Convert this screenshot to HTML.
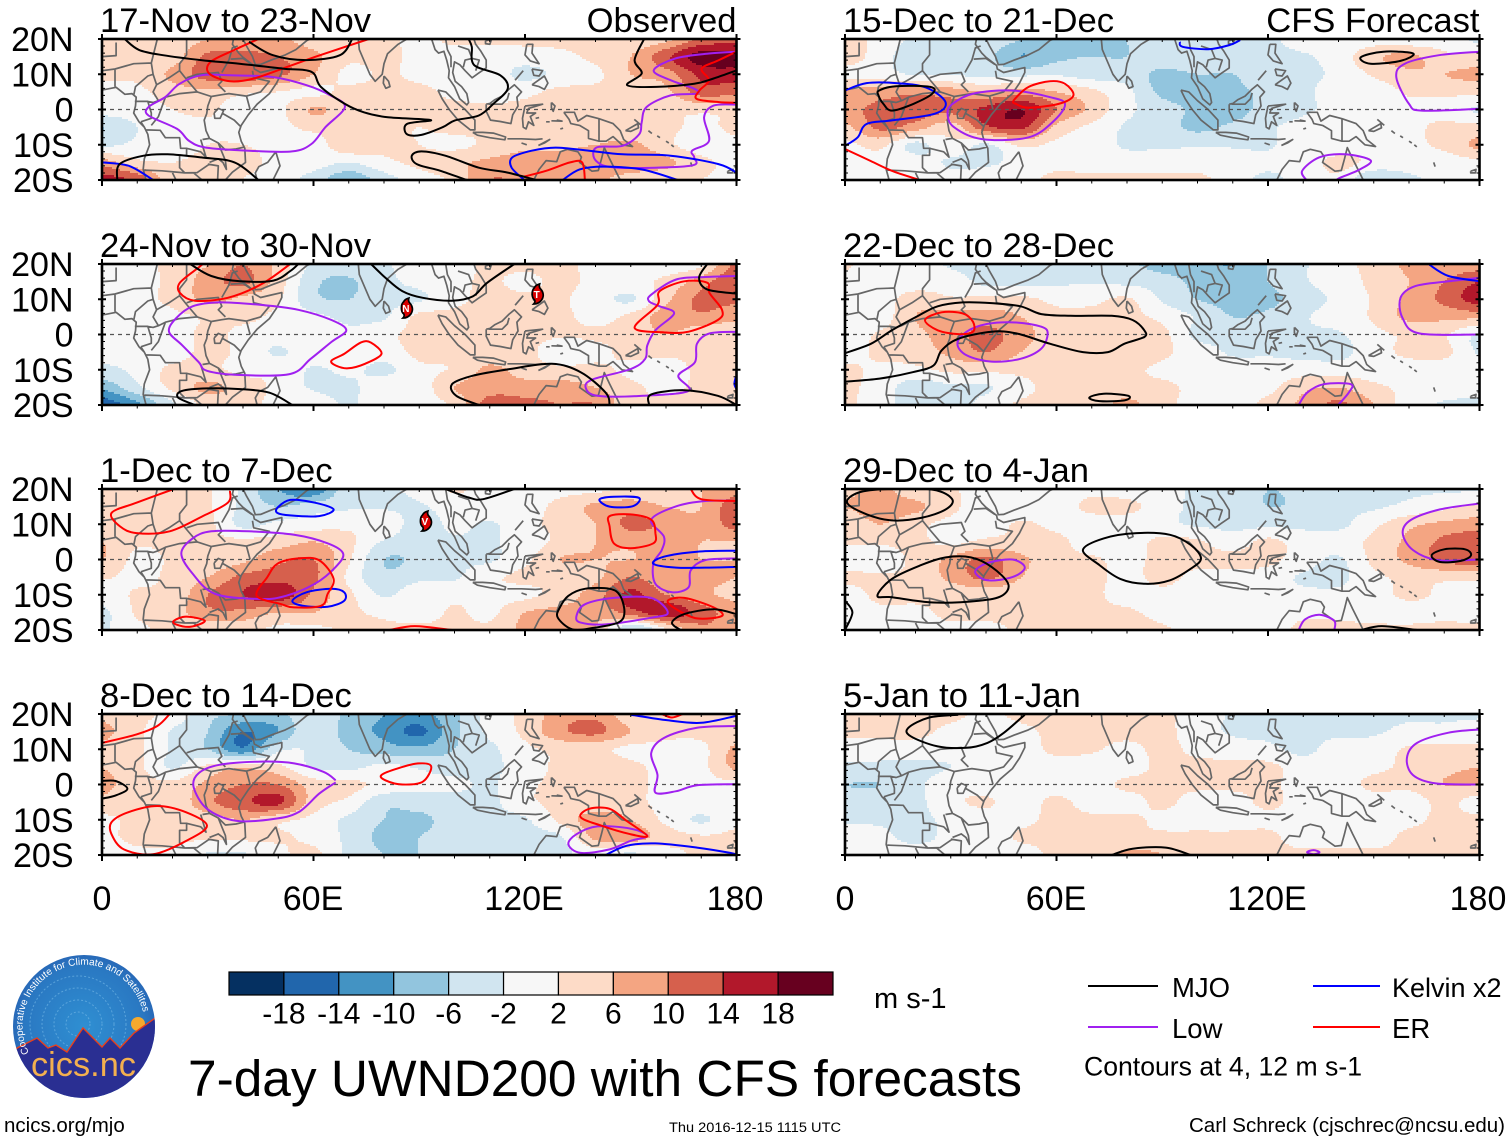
<!DOCTYPE html>
<html lang="en">
<head>
<meta charset="utf-8">
<title>7-day UWND200 with CFS forecasts</title>
<style>
html,body{margin:0;padding:0;background:#fff;}
svg{display:block;font-family:"Liberation Sans",Arial,sans-serif;}
</style>
</head>
<body>
<svg id="figure" xmlns="http://www.w3.org/2000/svg" width="1510" height="1142" viewBox="0 0 1510 1142">
  <rect width="1510" height="1142" fill="#fff"/>
  <g id="panels"></g>

  <g id="colorbar"></g>
  <text x="874" y="1008" font-size="29">m s-1</text>

  <g>
    <line x1="1088" x2="1158" y1="986" y2="986" stroke="#000" stroke-width="2"/>
    <text x="1172" y="997" font-size="27.5">MJO</text>
    <line x1="1313" x2="1380" y1="986" y2="986" stroke="#0000ff" stroke-width="2"/>
    <text x="1392" y="997" font-size="27">Kelvin x2</text>
    <line x1="1088" x2="1158" y1="1027" y2="1027" stroke="#a020f0" stroke-width="2"/>
    <text x="1172" y="1038" font-size="27.5">Low</text>
    <line x1="1313" x2="1380" y1="1027" y2="1027" stroke="#ff0000" stroke-width="2"/>
    <text x="1392" y="1038" font-size="27.5">ER</text>
    <text x="1084" y="1075.5" font-size="27" textLength="278" lengthAdjust="spacingAndGlyphs">Contours at 4, 12 m s-1</text>
  </g>

  <text x="188" y="1096" font-size="51.4" textLength="834" lengthAdjust="spacingAndGlyphs">7-day UWND200 with CFS forecasts</text>
  <text x="4" y="1132" font-size="20.5">ncics.org/mjo</text>
  <text x="669" y="1132" font-size="13.5" textLength="172" lengthAdjust="spacingAndGlyphs">Thu 2016-12-15 1115 UTC</text>
  <text x="1189" y="1132" font-size="20" textLength="316" lengthAdjust="spacingAndGlyphs">Carl Schreck (cjschrec@ncsu.edu)</text>

  <g>
    <defs>
      <clipPath id="logo-clip"><ellipse cx="84" cy="1026.5" rx="71" ry="71.5"/></clipPath>
      <radialGradient id="logo-sky" cx="0.5" cy="0.5" r="0.6">
        <stop offset="0" stop-color="#2f8fd2"/>
        <stop offset="0.7" stop-color="#2a78c2"/>
        <stop offset="1" stop-color="#2456ab"/>
      </radialGradient>
      <path id="logo-ring" d="M 29 1053 A 61 61 0 1 1 143 1012"/>
    </defs>
    <ellipse cx="84" cy="1026.5" rx="71" ry="71.5" fill="url(#logo-sky)"/>
    <g clip-path="url(#logo-clip)" fill="none" stroke="#6fb4e4" stroke-width="1" stroke-dasharray="2 2" opacity="0.7">
      <circle cx="78" cy="1024" r="12"/>
      <circle cx="78" cy="1024" r="24"/>
      <circle cx="78" cy="1024" r="36"/>
      <circle cx="78" cy="1024" r="48"/>
    </g>
    <g clip-path="url(#logo-clip)">
      <circle cx="138" cy="1024" r="7" fill="#f5a92e"/>
      <path d="M10 1052 L19 1047 L37 1038 L48 1048 L56 1045 L67 1052 L83 1028 L102 1047 L110 1038 L120 1048 L134 1033 L158 1016 L158 1100 L10 1100 Z" fill="#2a2f92" stroke="#e8401c" stroke-width="1.4"/>
    </g>
    <text font-size="10" fill="#ffffff"><textPath href="#logo-ring">Cooperative Institute for Climate and Satellites</textPath></text>
    <text x="31" y="1076" font-size="34" fill="#f3b04f" textLength="105" lengthAdjust="spacingAndGlyphs">cics.nc</text>
  </g>
</svg>

<script>
// ---------- axes ----------
const lonValues = [0,10,20,30,40,50,60,70,80,90,100,110,120,130,140,150,160,170,180];
const latValues = [20,15,10,5,0,-5,-10,-15,-20];
const lonTicks = [0,60,120,180];
const lonTickLabels = ['0','60E','120E','180'];
const latTicks = [20,10,0,-10,-20];
const latTickLabels = ['20N','10N','0','10S','20S'];
const colorLevels = [-18,-14,-10,-6,-2,2,6,10,14,18];
const bandColors = ['#053061','#2166ac','#4393c3','#92c5de','#d1e5f0','#f7f7f7','#fddbc7','#f4a582','#d6604d','#b2182b','#67001f'];

// ---------- shaded anomalies (m/s), rows 20N..20S, columns 0..180E ----------
const windNov17 = [
[3,4,4,6,8,7,4,3,3,1,3,3,3,3,3,3,5,11,12],
[3,3,4,11,11,10,7,3,3,1,0,0,0,1,3,6,13,20,20],
[3,3,7,12,13,11,6,1,2.5,1,0,0,-3,-1,1,6,8,15,16],
[0,1,4,5,3,2,1,3,3,3,1,0,1,3,3,3,5,12,11],
[0,0,2,3,-1,1,6.5,4,5,3,3,3,3,3,3,6,3,3,3],
[-6,-2,0,1,1,1,3,3,3,2,3,3,3,3,3,3,3,1,3],
[-3,-1,0,2,2,1,0,5,3,2,1,3,5,5,6,7,3,0,1],
[8,3,2,3,3,1,0,-2,1,3,5,7,8,8,9,9,7,3,1],
[16,13,3,4,2,0,-4,-9,-4,0,3,10,9,10,7,4,3,2,1]];
const windNov24 = [
[1,1,3,6,10,5,-3,-4,-2.5,0,1,2.5,3,3,1,1,0,1,11],
[1,1,3,8,11,4,-5,-6.5,-3,-1,1,2.5,1,3,1,1,3,8,14],
[1,1,3,7,5,2.5,-5,-6,-3,-2.5,1,3,3,2.5,0,-2.5,5,11,11],
[1,0,1,2.5,3,1,-1,-3,-2.5,3,3,3,5,3,1,3,8,9,7],
[0,0,0,3,1,0,1,-1,1,3,3,3,3,2.5,2.5,3,6,3,3],
[-1,-1,0,3,1,-2.5,1,1,0,3,3,3,3,0,1,3,3,3,3],
[-3,-1,3,3,1,1,-2.5,-1,-3,1,2.5,7,4,3,3,1,0,3,3],
[-9,-3,3,7,4,1,-2.5,-3,1,0,6,8,8,8,6,3,1,3,3],
[-17,-11,-3,3,3,1,1,-2.5,1,0,3,12,11,10,10,3,3,5,3]];
const windDec01 = [
[3,3,3,2.5,-3,-10,-13,-3,-2.5,-1,2.5,0,1,1,1,3,3,6,8],
[3,3,4,2.5,-3,-6,-4,-2.5,-2.5,-2.5,0,1,1,3,7,8,6,6,13],
[2.5,2.5,4,3,-3,-1,0,1,1,-4,-1,-2.5,1,3,6,11,9,7,12],
[6,2.5,3,3,3,4,6,3,-2.5,-4,-2.5,-2.5,0,3,6,7,8,6,6],
[6,1,2.5,3,5,9,10,2.5,-6,-5,-2.5,-2.5,1,6,6,6,7,6,6],
[2.5,1,3,6,11,12,11,1,-5,-3,-2.5,1,3,3,5,10,7,7,6],
[0,2.5,3,10,14,17,9,3,-2.5,1,1,1,1,4,8,15,10,7,5],
[-3,2.5,4,9,9,6,6,3,1,0,2.5,1,6,7,7,12,17,12,8],
[-2.5,1,3,3,3,1,1,2.5,3,3,3,3,7,7,6,-7,1,9,7]];
const windDec08 = [
[5,3,1,-5,-6,-7,-3,-7,-10,-11,-7,0,3,8,9,3,3,3,3],
[7,3,-2.5,-6,-14,-10,-2.5,-8,-11,-15,-7,-1,3,9,11,6,3,3,3],
[5,3,-2.5,-6,-13,-3,-2.5,-6,-8,-9,-6,-3,1,3,3,1,1,1,7],
[6,3,-2.5,3,5,3,-2.5,-3,-1,-2.5,-4,-3,0,3,6,3,1,1,7],
[7,4,3,7,10,10,4,3,1,-1,-1,-2.5,1,3,3,3,1,1,1],
[5,3,3,9,13,15,4,1,-5,-4,-4,-3,1,3,3,3,1,1,1],
[1,3,3,4,6,3,1,-3,-6,-7,-4,-3,-2.5,3,8,6,1,-2.5,1],
[1,3,3,2.5,3,2.5,1,-3,-7,-6,-4,-3,-3,-2.5,7,8,4,2.5,3],
[-1,1,1,-2.5,-2.5,1,3,-3,-6,-6,-5,-3,-4,-3,-1,-3,0,3,3]];
const windDec15 = [
[3,1,-3,-3,-3,-6,-8,-10,-6,-2.5,-2.5,-3,-3,0,-1,0,-1,0,-3],
[4,0,-5,-6,-5,-10,-7,-6,-6,-3,-3,-3,-3,-2.5,0,5,7,3,3],
[1,0,-2.5,-2.5,-3,-3,-2.5,-4,-4,-7,-6,-6,-3,-3,-1,2.5,5,6,7],
[7,8,9,8,6,8,6,3,-1,-7,-8,-7,-5,-3,0,0,2.5,3,3],
[9,11,12,11,15,18,10,5,-1,-4,-7,-8,-4,-2.5,-1,1,1,0,-2.5],
[5,11,8,4,13,15,5,1,-2.5,-4,-7,-5,-2.5,-1,1,1,1,3,3],
[1,3,-3,1,-2.5,3,1,0,-2.5,-2.5,-2.5,-2.5,-2.5,0,0,0,1,3,7],
[0,1,0,-2.5,-2.5,-1,1,0,0,0,0,0,-1,0,3,1,0,0,1],
[-1,-1,0,0,0,1,3,3,3,3,3,0,-3,0,1,-6,-3,-1,-1]];
const windDec22 = [
[2.5,0,0,-2.5,-3,-3,-2.5,-3,-5,-8,-9,-10,-6,-2.5,1,3,7,7,8],
[1,0,0,0,-3,-3,-2.5,-2.5,-3,-4,-7,-7,-6,-2.5,0,3,6,10,14],
[0,0,4,2.5,3,3,1,1,2.5,-2.5,-6,-7,-7,-4,-1,2.5,7,11,16],
[0,0,6,8,8,6,3,3,3,1,-2.5,-6,-5,-2.5,0,2.5,7,7,7],
[0,2.5,5,8,11,8,3,3,3,3,-3,-2.5,-2.5,-2.5,-2.5,1,2.5,2.5,-2.5],
[0,3,4,7,10,6,3,3,6,3,0,-2.5,-2.5,-3,-3,0,3,3,-2.5],
[3,1,1,3,3,3,3,3,3,1,0,0,0,0,0,0,0,0,0],
[3,0,-4,-3,-2.5,1,3,3,4,3,1,1,1,5,6,3,1,0,-1],
[3,-1,-3,-5,0,2.5,3,4,7,3,1,1,3,7,11,6,0,-2.5,-2.5]];
const windDec29 = [
[5,7,3,2.5,0,0,0,1,0,0,-3,-4,-6,-5,-3,-2.5,-2.5,-2.5,-2.5],
[6,8,7,3,0,0,0,3,3,0,-3,-3,-6,-5,-3,-2.5,-1,1,3],
[3,6,3,1,0,2.5,1,0,0,-1,-2.5,-3,-3,-3,-3,1,5,7,8],
[2.5,2.5,3,1,3,3,3,0,0,3,2.5,0,3,0,0,3,7,11,13],
[0,0,3,7,11,7,3,2.5,1,3,3,3,3,0,-2.5,3,7,11,13],
[3,2.5,3,7,11,6,3,3,1,3,1,1,0,-2.5,-3,1,3,3,3],
[0,3,3,3,3,3,3,3,0,1,0,0,-1,-1,-1,0,3,1,0],
[0,1,1,3,3,3,3,3,3,0,0,0,0,1,1,0,0,1,0],
[0,0,0,1,1,2.5,3,3,6,3,0,0,0,3,3,3,3,3,3]];
const windJan05 = [
[3,3,3,3,1,3,3,3,3,3,0,-2.5,-5,-5,-3,-2.5,-2.5,-2.5,-2.5],
[3,3,3,1,0,1,3,3,3,3,0,-2.5,-3,-3,-3,-2.5,-1,-1,0],
[0,0,0,0,0,0,3,2.5,1,3,1,0,-1,-3,0,0,2.5,3,3],
[-3,-3,-3,-2,0,0,0,0,0,3,3,3,3,0,0,1,3,5,6],
[-6,-6,-3,0.5,0,0,0,0,3,3,3,3,3,0,0,3,3,6,6],
[-4,-3,-3,1,2.5,0,3,0,0,3,0,0,3,0,0,0,0,3,0],
[-2.5,-2.5,-3,-1,0,1,3,3,3,1,0,0,1,0,0,0,1,3,3],
[0,-1,-3,-1,0,2.5,3,3,3,3,3,3,3,0,0,0,3,3,3],
[0,0,0,0,0,0,3,3,7,6,3,3,3,3,3,3,3,3,6]];

// ---------- filtered-wave contours, vertices as [lon,lat]; a repeated first vertex closes a ring ----------
const mjoNov17 = [
[[6.4,20],[10.5,16.9],[17.3,15.4],[28.1,14],[39,13],[51.2,11.6],[59.4,10.7],[62.1,6.4],[68.9,1.6],[74.3,-0.8],[81.1,-2.2],[93.3,-3],[86.5,-4.1],[86.5,-7],[90.6,-7.2],[96.7,-5],[100.1,-3.1],[106.9,-1.7],[111,1.6],[115.1,5.9],[113,9.7],[105.6,12.6],[104.9,17.8],[104,20]],
[[41.7,19.2],[48.5,15.4],[58,14],[67.5,15.4],[70.9,19.8]],
[[4.3,-20],[5,-15.5],[11.8,-13.1],[18.6,-12.7],[28.1,-13.6],[37.6,-15],[44.4,-20]],
[[103.5,-20],[96,-17.4],[89.3,-15.5],[87.9,-13.1],[90.6,-11.9],[97.4,-13.1],[106.9,-16.5],[115.1,-17.9],[123.2,-20]],
[[153.8,20],[151.1,14],[153.1,10.2],[149,6.9],[157.2,6.4],[168,7.3],[173.5,8.8],[180,11.1]]];
const lowNov17 = [
[[68.9,0.7],[64.8,4],[58,6.9],[48.5,9.2],[36.3,9.7],[28.1,9.7],[22,7.3],[17.9,3.5],[13.2,0.7],[13.2,-1.7],[21.3,-5.5],[24.7,-8.9],[29.5,-10.8],[41.7,-11.7],[53.9,-11.9],[59.4,-9.8],[63.4,-5],[68.9,0.7]],
[[180,16.4],[172.2,15.9],[162.7,14.5],[156.5,11.1],[161.3,8.3],[168,5.9],[168.7,4.5],[161.3,4],[154.5,0.7],[153.1,-3.6],[152.4,-7],[147.7,-10.3],[140.2,-10.8],[140.2,-14.6],[146.3,-16.5],[166.7,-16],[168,-13.6],[167.4,-11.7],[172.2,-8.9],[170.8,-2.2],[173.5,1.1],[180,1.4]]];
const kelvinNov17 = [
[[119.8,-20],[116.2,-16.5],[116.4,-13.6],[121.9,-11.7],[128.7,-10.8],[138.2,-11.7],[147.7,-12.7],[161.3,-13.1],[174.9,-15.5],[180,-17.9]],
[[130.7,-20],[135.5,-17],[142.3,-16.2],[153.1,-17],[163.3,-20]],
[[0.3,-15],[7.7,-16],[14.5,-20]]];
const erNov17 = [
[[44.4,20],[37.6,16.9],[30.8,13.5],[30.4,10.2],[36.3,8],[43.1,8.8],[52.6,12.1],[60.7,15],[75.7,20]],
[[180,16.4],[175,14],[170.1,11.6],[172.2,8.3],[169.5,5.4],[168.7,3],[175,2.1],[180,1.9]],
[[119.8,-19],[126,-17.4],[132.8,-15],[136.2,-15],[137,-20]]];

const mjoNov24 = [
[[25,20],[31,16.6],[39.2,15.1],[48.6,15.3],[53.4,18],[55.7,20]],
[[76.3,20],[80.4,16.1],[85.2,12.3],[91,10.4],[99.3,9.6],[105.2,10.8],[109.3,14.7],[117,20]],
[[171.7,20],[169.4,16.1],[171.7,12.8],[180,11.6]],
[[26.3,-20],[21.6,-17.9],[22.7,-16],[29.8,-15.3],[39.2,-15.5],[47.5,-16.5],[54,-20]],
[[107,-20],[100.5,-17.4],[99.3,-14.1],[105.2,-11.7],[115.8,-9.8],[127.6,-8.3],[135.8,-10.7],[142.9,-16.5],[144,-20]],
[[155.2,-20],[155.8,-17],[165.2,-15.8],[174.7,-17.4],[180,-20]]];
const lowNov24 = [
[[69.3,1.2],[65.1,4.1],[55.7,7],[45.1,8.4],[33.3,9.1],[25.7,8],[21,4.6],[19,0.8],[22.7,-3],[27.4,-7.8],[29.8,-10.3],[39.2,-11.5],[53.4,-11.2],[59.2,-6.9],[65.1,-2.1],[69.3,1.2]],
[[180,16.6],[171.1,16.3],[162.9,15.6],[155.8,11.3],[155.2,9.4],[158.2,8],[162.3,6],[157,1.2],[154.7,-3.1],[154.1,-6.9],[150,-9.8],[139.3,-12.7],[137.2,-15],[140.5,-17.4],[153.5,-17.4],[166.4,-16],[163.5,-11.7],[168.2,-7.9],[168.8,-2.6],[172.3,0.3],[180,0.8]]];
const kelvinNov24 = [[[179.8,-12],[179.4,-14],[180,-15.5]]];
const erNov24 = [
[[53.4,20],[45.1,14.2],[35.7,10.4],[26.3,9.6],[22.1,11.8],[22.1,14.7],[27.4,19],[28.6,20]],
[[68.7,-5.5],[73.4,-2.3],[76.3,-2.3],[79.3,-5.5],[74.6,-8.3],[69.8,-9.6],[66.3,-8.8],[65.1,-7.4],[68.7,-5.5]],
[[151.1,1.9],[157.6,8.4],[158.2,12.3],[165.2,15.1],[171.7,14.7],[172.3,11.8],[175.9,7],[174.7,4.1],[166.4,0.8],[159.4,0.6],[151.1,1.9]]];

const mjoDec01 = [
[[97.5,20],[104,17.6],[108.1,17.1],[117,20]],
[[129.9,-13.6],[132.3,-10.3],[137,-8.3],[144,-8.3],[147,-10.3],[148.2,-15.1],[146.4,-17.9],[139.3,-19.4],[133.4,-19.8],[129.3,-16.5],[129.9,-13.6]],
[[164.1,-20],[161.7,-17.9],[165.2,-15.5],[173.5,-14.1],[180,-15.5]]];
const lowDec01 = [
[[68.4,1.7],[64,4.6],[54.5,7],[41.6,8],[31,8],[25.7,6],[22.5,1.7],[25.7,-4],[32.2,-9.8],[45.1,-11.2],[52.2,-10.3],[60.4,-6.9],[66.3,-2.1],[68.4,1.7]],
[[180,16.6],[171.1,16.6],[162.9,15.1],[155.8,11.3],[159.4,6.5],[158.8,2.7],[156.4,-1.2],[157,-6.9],[161.7,-9.3],[166.4,-7.9],[167,-3.1],[171.1,-0.2],[180,0.3]],
[[134.6,-16],[137,-12.7],[145.2,-10.9],[155.8,-10.9],[160.5,-15.1],[155.8,-16.5],[142.9,-18.4],[135.8,-17.9],[134.6,-16]]];
const kelvinDec01 = [
[[49.8,14.7],[53.4,16.9],[60.4,16.1],[65.7,14.2],[61.6,12.3],[53.4,12.5],[49.8,13.2],[49.8,14.7]],
[[141.1,17],[145.2,17.8],[152.3,17.5],[150.5,15.1],[144,15],[141.1,17]],
[[180,2.5],[168.8,2.2],[159.4,0.8],[156.4,-1.2],[162.9,-2.3],[171.1,-2.3],[180,-2.1]],
[[54,-11.7],[58,-9.3],[65.1,-8.3],[68.7,-9.3],[68.7,-11.7],[64,-13.4],[56.9,-13.1],[54,-11.7]]];
const erDec01 = [
[[36.3,19.5],[35.7,16.1],[28.6,12.3],[19.2,8],[9.8,7.5],[5.1,9.4],[2.7,13.2],[9.8,16.1],[20.4,20]],
[[20.4,-17.4],[23.9,-16.2],[29.2,-17.4],[25.1,-19.1],[21,-18.4],[20.4,-17.4]],
[[51,-12.7],[43.9,-10.3],[46.9,-5],[49.8,-1.2],[55.7,0.3],[61.6,-0.2],[65.7,-5.5],[64,-9.8],[62.2,-13.1],[54.5,-13.6],[51,-12.7]],
[[81.6,-20],[88.7,-18.9],[99.3,-20]],
[[144,12.3],[149.9,12.8],[155.8,11.3],[157,7.5],[156.4,4.6],[149.9,3.2],[145.2,4.6],[144,9.4],[144,12.3]],
[[167,20],[170,17.1],[180,16.6]],
[[160.5,-11.7],[165.2,-10.9],[173.5,-13.6],[175.9,-16],[168.8,-16.7],[162.9,-14.1],[160.5,-11.7]]];

const mjoDec08 = [[[0,1],[3.9,1],[7.2,-1.2],[3.9,-3.1],[0,-4]]];
const lowDec08 = [
[[66.3,1.2],[62.8,3.6],[54.5,6],[45.1,6.5],[33.3,5.6],[27.4,3.2],[26,-0.7],[29.8,-6.9],[38,-10.3],[48.6,-9.8],[55.7,-7.9],[61.6,-2.6],[66.3,0.6]],
[[180,16.6],[168.8,16.1],[159.4,13.2],[155.8,8.9],[157.6,2.7],[157,-2.3],[162.9,-1.9],[168.8,-0.2],[180,0.1]],
[[154.7,-14.6],[149.9,-12.5],[140.5,-11.9],[134.6,-14.1],[132.3,-17],[135.8,-19.4],[144,-18.4],[149.9,-16],[154.7,-14.6]]];
const kelvinDec08 = [
[[150,19.8],[160.5,18.2],[170,17.5],[180,19.5]],
[[142.9,-20],[148.8,-17.4],[157,-16.7],[168.8,-17.9],[178.2,-19.4],[180,-20]]];
const erDec08 = [
[[19.2,20],[15.7,16.6],[9.8,14.2],[0,11.8]],
[[2.7,-10.7],[7.4,-7.9],[15.7,-6.1],[23.9,-7.9],[29.8,-11.7],[23.9,-16],[14.5,-19.8],[6.2,-18.4],[2.7,-14.1],[2.7,-10.7]],
[[79.3,2.7],[84,4.6],[89.9,6],[93.4,5.1],[91,0.8],[85.2,0],[80.4,1.2],[79.3,2.7]],
[[135.8,-9.3],[138.2,-6.9],[144,-6.9],[148.8,-10.3],[154.7,-14.6],[149.9,-14.1],[141.7,-11.7],[135.8,-9.3]],
[[158.8,20],[161.7,19],[164.7,20]]];

const mjoDec15 = [
[[9.7,5.4],[14.5,6.6],[24.2,6.4],[24.8,4.5],[19.4,1.6],[13.3,-0.3],[10.9,1.6],[9.5,4],[9.7,5.4]],
[[146.3,14.8],[152.7,16.4],[161.2,15.9],[157.6,13.8],[149.1,13],[146.3,14.8]]];
const lowDec15 = [
[[62.4,1.6],[58.2,3.5],[47.3,5.4],[36.4,4.5],[30.5,1.6],[29.1,-1.2],[30.9,-5],[38.8,-8.4],[52.1,-7.9],[59.4,-3.1],[62.4,1.6]],
[[180,16.4],[168.5,15.4],[158.8,13],[156.4,9.2],[160,1.6],[163.6,-0.3],[180,0.2]],
[[130.9,-20],[129.7,-17.4],[134.5,-13.6],[141.8,-12.7],[149.1,-14.4],[146.1,-17],[140.6,-19.3],[139.4,-20]]];
const kelvinDec15 = [
[[0,5.4],[6.1,7.5],[14.5,7.5],[23,6.2],[28.5,2.1],[25.5,-1.2],[13.3,-3.1],[6.1,-4.1],[3.6,-7.9],[0,-10.3]],
[[95,19.2],[95.8,17.8],[103.1,17.1],[109.1,18.3],[112.1,19.7]]];
const erDec15 = [
[[47.9,2.6],[52.1,6.4],[58.2,8],[62.4,7.3],[64.8,4],[60.6,1.6],[52.1,0.5],[48.5,1.6],[47.9,2.6]],
[[0,-11.2],[7.3,-14.6],[13.3,-17.4],[20.6,-19.8]]];

const mjoDec22 = [
[[0,-5.3],[7.4,-2.6],[13.3,1.2],[20.4,5.1],[26.3,8],[33.4,9.1],[41.6,8.9],[49.8,8],[55.7,5.8],[64,5.3],[75.7,5.3],[81.6,4.1],[84.9,1.2],[84.9,-0.7],[79.3,-2.6],[74.6,-5],[67.5,-5],[58.1,-2.6],[48.6,0.3],[41.6,0.8],[32.2,-1.2],[27.4,-4.5],[25.1,-8.8],[19.2,-10.7],[9.8,-12.5],[0,-13.4]],
[[69.3,-17.9],[73.4,-16.8],[80.4,-17.4],[79.3,-18.7],[72.2,-18.9],[69.3,-17.9]]];
const lowDec22 = [
[[57.5,0.3],[55.7,2.2],[48.6,3.4],[40.4,3],[34.5,0.8],[31.9,-2.6],[34.5,-5.9],[41.6,-7.7],[49.8,-6.9],[55.7,-4],[57.5,0.3]],
[[180,16.1],[171.2,15.1],[161.7,13.7],[157.6,10.4],[158.2,4.6],[162.9,0.3],[180,0]],
[[128.7,-20],[131.1,-16.5],[135.8,-14.1],[143.5,-14.1],[142.9,-16.5],[139.9,-20]]];
const kelvinDec22 = [[[165.8,19.8],[171.2,16.6],[180,15.1]]];
const erDec22 = [[[22.7,4.1],[27.4,6.3],[33.4,6],[36.3,3.6],[36.3,0.8],[32.2,0.1],[26.3,1.2],[22.7,4.1]]];

const mjoDec29 = [
[[0.6,16.1],[3.9,19],[12.1,20],[25,19.8],[30.4,17.1],[28.6,14.2],[21.6,11.8],[13.3,11.1],[6.2,12.8],[0.6,16.1]],
[[9.2,-10.3],[13.3,-5.5],[21.6,-1.6],[28.6,0.6],[35.7,0.6],[41.6,-2.1],[46.3,-6.9],[44.5,-10.3],[38,-11.7],[25.1,-12.2],[13.3,-10.7],[9.2,-10.3]],
[[0,-11.7],[2.1,-15],[0,-20]],
[[67.5,2.7],[73.4,6],[82.8,7.5],[92.2,7],[98.1,4.1],[101,0.3],[98.1,-2.6],[92.2,-5.9],[85.2,-6.9],[78.1,-5.5],[72.2,-1.6],[67.5,2.7]],
[[166.4,1.2],[170,2.9],[175.9,2.9],[177.6,1.2],[174.7,-0.4],[168.8,-0.7],[166.4,1.2]],
[[146.4,-20],[152.3,-18.9],[162.3,-20]]];
const lowDec29 = [
[[180,15.9],[168.8,14.2],[160.5,11.2],[158.2,7.5],[161.1,2.7],[168.2,-0.2],[180,0]],
[[36.9,-3.5],[40.4,-1],[47.5,0],[51,-2.3],[47.5,-5],[40.4,-5.9],[36.9,-3.5]],
[[128.7,-20],[130.5,-17],[134.6,-15.7],[138.8,-17.4],[138.8,-20]]];

const mjoJan05 = [
[[32.1,19.8],[23.9,19],[18,16.1],[18.6,13.7],[26.3,10.8],[34.5,10.4],[40.4,11.8],[45.1,14.7],[51,19.8]],
[[75.7,-20],[81.6,-18.2],[91,-17.9],[98.1,-20]]];
const lowJan05 = [
[[180,15.6],[171.2,14.7],[162.3,11.8],[159.4,7.5],[161.1,2.7],[167.6,0.3],[180,0]],
[[131.1,-19.2],[132.9,-18.6],[134.6,-19.2],[132.9,-19.8],[131.1,-19.2]]];

// ---------- tropical cyclone positions ----------
const stormNames = ['N','T','V'];
const stormLons = [86.2,123.3,91.6];
const stormLats = [7.5,11.5,10.9];
const stormPanels = [1,1,2];

// ---------- map outlines, vertices as [lon,lat] ----------
const coastlines = [
[[0,5.5],[4,6.3],[5,5.5],[6.5,4.3],[8.5,4.5],[9.7,3.5],[9.5,1],[9,-1],[10.5,-3.5],[12,-5],[13,-7],[13.5,-10],[12,-14],[11.7,-17],[12.5,-20]],
[[37.3,20],[37,18.5],[38.8,16],[40,14.8],[43,12.5],[43.2,11.5],[45,10.5],[48,11.2],[51,11.9],[51,10.5],[49.5,7.5],[47.5,4.5],[44,1.5],[41.5,-1.5],[39.5,-4.5],[38.8,-6.5],[39.5,-9],[40.5,-11],[40.7,-15],[37,-17.8],[35,-20]],
[[40,20],[41,18],[42.7,15],[43.5,12.7],[45,12.8],[48,14],[52,15.5],[55,17],[58,19.5],[59,20]],
[[72.7,20],[73,17],[74.5,13.5],[76,10],[77.5,8],[79.5,10],[80,13],[81,15.8],[84,18.5],[86.5,20]],
[[80,9.5],[81.3,8],[81.7,6.5],[80.5,6],[79.8,7.5],[80,9.5]],
[[93.5,20],[94.5,17],[95.5,16],[97,16.5],[97.8,14],[98.5,11],[98.3,9],[100,6.5],[101.5,3],[103.5,1.3],[104,2],[103.5,4.5],[102,6.5],[100.2,8],[99.5,10.5],[100,13.5],[101.5,12.7],[103,11],[105,9],[106.8,10.3],[109,11.8],[109,14],[107.5,16.5],[106,18.5],[105.5,20]],
[[108.8,19.5],[110.5,19.9],[110,18.5],[108.8,18.7],[108.8,19.5]],
[[97.5,20],[98,17],[99,15],[99,12]],[[101,18],[104,17],[105,14.5],[107,14],[106,11]],[[102.5,12],[103,14],[105,14.5]],
[[95.3,5.5],[97.5,5],[100,2.5],[103,0],[105.8,-3],[105.8,-5.8],[104.5,-5.8],[101,-3],[98.5,0],[96.5,3],[95.3,5.5]],
[[105.2,-6.5],[108,-6.5],[111,-6.7],[114.5,-7.8],[114.3,-8.6],[110,-8],[106.5,-7.3],[105.2,-6.5]],
[[115,-8.3],[119,-8.3],[123,-8.5],[125,-8.3]],[[119,-9.5],[120.5,-10]],[[123.8,-10.2],[127,-8.5],[125.5,-9.5],[123.8,-10.2]],
[[109,1.5],[110,1.7],[111.5,2.8],[113.5,3.8],[115.5,5.8],[117,7],[119,5],[117.7,3.5],[118,1],[116.5,-1.5],[116,-4],[113,-3.4],[110.2,-3],[109,-0.5],[109,1.5]],
[[109.7,1.5],[113.5,1.5],[115,3],[115.5,4.7]],
[[120,1],[125,1.5],[121,0.3],[120.5,-1],[123,-1],[121.5,-2],[122.5,-4.5],[121,-3.5],[120.3,-5.5],[119.5,-5],[119.3,-2.5],[120,1]],
[[117.2,8.3],[119.5,11]],
[[120.5,18.5],[122.2,18.5],[122,16],[124,13],[121.5,13.8],[120,15.5],[120.5,18.5]],
[[122,11.5],[125,11],[124,9.5],[122.5,9.7],[122,11.5]],
[[122,7],[125.5,9.5],[126.5,7.5],[125.5,5.7],[124,6.5],[122,7]],
[[127.5,2],[128.5,1],[128,-0.5],[127.5,0.5],[127.5,2]],
[[127.5,-3.2],[130.5,-3.3],[129,-3]],[[126,-3.5],[127,-3.5]],[[123,-2.5],[124,-2.3]],[[130,-5.5],[130.8,-5.3]],
[[131,-0.8],[134,-0.8],[135,-3.3],[137.5,-1.7],[141,-2.6],[145,-4],[147,-6],[148,-8.5],[150.5,-10.5],[147.5,-10],[145,-7.7],[143,-9],[141,-9],[138,-8.2],[138,-6],[135.5,-4.5],[133,-4],[132.5,-2.8],[131,-0.8]],
[[141,-2.6],[141,-9]],
[[148.5,-6],[152,-4],[152.2,-5.2],[150,-6.2],[148.5,-6]],[[151,-2.8],[153,-4.5]],
[[155,-6],[156,-6.8]],[[157.5,-7.5],[158.3,-8]],[[160,-9],[160.8,-9.5]],[[161.5,-10],[162.2,-10.6]],[[167,-15],[167.4,-16.2]],
[[177.5,-17.5],[179,-17],[178.8,-18],[177.5,-18],[177.5,-17.5]],[[179.5,-16.5],[180,-16]],
[[122.5,-20],[124,-17],[126,-14.5],[129,-14.8],[130,-12],[132,-11.3],[135,-12],[136,-13.5],[135.5,-15],[139,-17.5],[140.8,-17.3],[141.7,-14],[142.5,-10.8],[144,-14],[146,-18],[147,-20]],
[[49.3,-12],[50.5,-16],[48.5,-20],[44,-20],[43.5,-18],[44.5,-16.2],[47,-15],[49.3,-12]],
[[0,15],[4,15.3],[4,19]],
[[0,11],[3.7,11.5],[3.7,6.5]],
[[3.7,11.5],[9,13],[14,13.2],[15.7,20]],
[[14,13.2],[14.5,10],[15.5,7],[14.5,5],[16,2.5],[18,3.5],[22,4.5],[27,5],[31,3.7],[34,4.2],[36,4.5],[41,3.8],[42,0]],
[[9,4],[9.5,6.5],[13,9.5],[14.5,10]],
[[15.5,7],[19,9],[22,11],[22,13],[24,15.5],[24,20]],
[[22,11],[24,8.5],[27,5]],
[[24,9],[27,10],[33,10.5],[34,8],[33,7],[35,5]],
[[34,10.5],[36,14],[37,17.5],[38.5,18]],
[[36.5,14.3],[40,14.5],[42.5,12.8]],
[[42.7,11],[43,9],[47.5,8],[45,5],[41,3.8]],
[[34,-1],[37.5,-3],[39.2,-4.7]],
[[31,3.7],[30,1],[29.7,-1.2],[29,-3],[29.5,-6],[30.5,-8.2],[28.5,-8.5]],
[[31.8,-1],[33,0.3],[34.5,-0.3],[33.5,-2.5],[32,-2.5],[31.8,-1]],
[[30.5,-8.2],[33,-9.5],[35,-11.5],[38,-11.2],[40.5,-10.6]],
[[33,-9.5],[34,-12],[35,-14.5],[35.3,-17],[34.3,-15],[33,-14],[30.5,-15]],
[[12.5,-5.8],[16.5,-5.9],[18,-8],[22,-8],[22.3,-11],[24,-11],[24,-13],[22,-13],[22,-16.5],[23.5,-18],[17,-17.4],[12,-17.2]],
[[24,-11],[28,-12],[29.5,-13.5],[28,-8.5]],[[23.5,-18],[27,-17.9],[30.5,-15.5]],
[[30,-15.5],[33,-16],[32.8,-20]],
[[9.3,2.3],[13,2.3],[14.5,2],[16,2.5]],[[11,-3.5],[12,-5]],[[14,-4.5],[16,-2],[18,3.5]],[[13,2.3],[14,-1],[14,-2.5],[11,-3.5]],
[[20,-18],[21,-20]],[[23.5,-18],[26,-18],[29,-20.5]]
];

// ---------- panel definitions ----------
const panelTitles = ['17-Nov to 23-Nov','24-Nov to 30-Nov','1-Dec to 7-Dec','8-Dec to 14-Dec','15-Dec to 21-Dec','22-Dec to 28-Dec','29-Dec to 4-Jan','5-Jan to 11-Jan'];
const panelGrids = [windNov17,windNov24,windDec01,windDec08,windDec15,windDec22,windDec29,windJan05];
const panelMjo = [mjoNov17,mjoNov24,mjoDec01,mjoDec08,mjoDec15,mjoDec22,mjoDec29,mjoJan05];
const panelLow = [lowNov17,lowNov24,lowDec01,lowDec08,lowDec15,lowDec22,lowDec29,lowJan05];
const panelKelvin = [kelvinNov17,kelvinNov24,kelvinDec01,kelvinDec08,kelvinDec15,kelvinDec22,[],[]];
const panelEr = [erNov17,erNov24,erDec01,erDec08,erDec15,erDec22,[],[]];

// ---------- layout ----------
const NS = 'http://www.w3.org/2000/svg';
const frame = {lefts:[102,845], tops:[39,264,489,714], width:634.5, height:141};
const panelsRoot = document.getElementById('panels');

function make(tag, parent){
  const el = document.createElementNS(NS, tag);
  parent.appendChild(el);
  return el;
}
function band(v){
  let k = 0;
  while(k < colorLevels.length && v >= colorLevels[k]) k++;
  return k;
}
function cubic(p0,p1,p2,p3,t){
  return p1 + 0.5*t*(p2-p0 + t*(2*p0-5*p1+4*p2-p3 + t*(3*(p1-p2)+p3-p0)));
}
function sampleGrid(grid, lon, lat){
  const fx = (lon-lonValues[0])/(lonValues[1]-lonValues[0]);
  const fy = (latValues[0]-lat)/(latValues[0]-latValues[1]);
  const nc = lonValues.length, nr = latValues.length;
  const ix = Math.min(nc-2, Math.max(0, Math.floor(fx)));
  const iy = Math.min(nr-2, Math.max(0, Math.floor(fy)));
  const tx = fx-ix, ty = fy-iy;
  const vals = [];
  for(let r=-1;r<=2;r++){
    const row = grid[Math.min(nr-1,Math.max(0,iy+r))];
    vals.push(cubic(row[Math.max(0,ix-1)],row[ix],row[ix+1],row[Math.min(nc-1,ix+2)],tx));
  }
  return cubic(vals[0],vals[1],vals[2],vals[3],ty);
}
function smoothPath(pts, sx, sy){
  const closed = pts.length>3 && pts[0][0]===pts[pts.length-1][0] && pts[0][1]===pts[pts.length-1][1];
  const p = (closed ? pts.slice(0,-1) : pts).map(q=>[sx(q[0]),sy(q[1])]);
  const n = p.length;
  const at = i => closed ? p[(i+n)%n] : p[Math.max(0,Math.min(n-1,i))];
  let d = 'M'+p[0][0].toFixed(1)+' '+p[0][1].toFixed(1);
  const segs = closed ? n : n-1;
  for(let i=0;i<segs;i++){
    const a=at(i-1),b=at(i),c=at(i+1),e=at(i+2);
    d += 'C'+(b[0]+(c[0]-a[0])/6).toFixed(1)+' '+(b[1]+(c[1]-a[1])/6).toFixed(1)+' '+
         (c[0]-(e[0]-b[0])/6).toFixed(1)+' '+(c[1]-(e[1]-b[1])/6).toFixed(1)+' '+
         c[0].toFixed(1)+' '+c[1].toFixed(1);
  }
  return d + (closed?'Z':'');
}
function straightPath(pts, sx, sy){
  return pts.map((q,i)=>(i?'L':'M')+sx(q[0]).toFixed(1)+' '+sy(q[1]).toFixed(1)).join('');
}

function drawContours(parent, sets, color, label, sx, sy){
  sets.forEach(line=>{
    const path = make('path', parent);
    
    
    path.setAttribute('d', smoothPath(line, sx, sy));
    path.setAttribute('fill', 'none');
    path.setAttribute('stroke', color);
    path.setAttribute('stroke-width', '2');
  });
}

panelTitles.forEach((title, idx)=>{
  const col = idx<4 ? 0 : 1, row = idx%4;
  const left = frame.lefts[col], top = frame.tops[row];
  const W = frame.width, H = frame.height;
  const sx = lon => left + (lon-0)/180*W;
  const sy = lat => top + (20-lat)/40*H;

  const g = make('g', panelsRoot);
  
  

  const clip = make('clipPath', g);
  clip.setAttribute('id', 'clip-'+idx);
  const clipRect = make('rect', clip);
  clipRect.setAttribute('x', left);
  clipRect.setAttribute('y', top);
  clipRect.setAttribute('width', W);
  clipRect.setAttribute('height', H);

  const body = make('g', g);
  body.setAttribute('clip-path', 'url(#clip-'+idx+')');
  
  

  // shading: run-length encoded isobands
  const step = 2;
  const dByBand = bandColors.map(()=> '');
  const grid = panelGrids[idx];
  const colCount = Math.ceil(W/step);
  for(let py=0; py<H; py+=step){
    const lat = 20 - (py+step/2)/H*40;
    let startCol = 0;
    let cur = -1;
    for(let c=0; c<=colCount; c++){
      const b = c<colCount ? band(sampleGrid(grid, Math.min(180,(c*step+step/2)/W*180), lat)) : -1;
      if(b!==cur){
        if(cur>=0){
          const x0 = startCol*step, w = (c-startCol)*step;
          dByBand[cur] += 'M'+(left+x0)+' '+(top+py)+'h'+w+'v'+step+'h'+(-w)+'z';
        }
        startCol = c;
        cur = b;
      }
    }
  }
  dByBand.forEach((d,k)=>{
    if(!d) return;
    const shade = make('path', body);
    
    
    shade.setAttribute('d', d);
    shade.setAttribute('fill', bandColors[k]);
    shade.setAttribute('shape-rendering', 'crispEdges');
  });

  // map outlines
  const map = make('path', body);
  
  
  map.setAttribute('d', coastlines.map(l=>straightPath(l,sx,sy)).join(''));
  map.setAttribute('fill', 'none');
  map.setAttribute('stroke', '#666');
  map.setAttribute('stroke-width', '1.7');
  map.setAttribute('stroke-linejoin', 'round');

  // equator
  const eq = make('line', body);
  
  
  eq.setAttribute('x1', left);
  eq.setAttribute('x2', left+W);
  eq.setAttribute('y1', sy(0));
  eq.setAttribute('y2', sy(0));
  eq.setAttribute('stroke', '#555');
  eq.setAttribute('stroke-width', '1.2');
  eq.setAttribute('stroke-dasharray', '4 4');

  // wave contours
  drawContours(body, panelLow[idx], '#a020f0', 'low', sx, sy);
  drawContours(body, panelKelvin[idx], '#0000ff', 'kelvin', sx, sy);
  drawContours(body, panelEr[idx], '#ff0000', 'er', sx, sy);
  drawContours(body, panelMjo[idx], '#000000', 'mjo', sx, sy);

  // storms
  stormNames.forEach((nm,s)=>{
    if(stormPanels[s]!==idx) return;
    const sg = make('g', body);
    
    
    const cx = sx(stormLons[s]), cy = sy(stormLats[s]);
    const swirl = make('path', sg);
    swirl.setAttribute('d', 'M'+(cx+3)+' '+(cy-10)+'q-4 1 -5.5 4 q-2 2 -2 6 q0 4 2.5 6 q1 2 -1 4 q5 0 8 -4 q2 -3 1.5 -6 q-0.5 -3 -2.5 -5 q-2 -2 -1 -5z');
    swirl.setAttribute('fill', '#d90000');
    swirl.setAttribute('stroke', '#000');
    swirl.setAttribute('stroke-width', '1.7');
    const letter = make('text', sg);
    letter.setAttribute('x', cx);
    letter.setAttribute('y', cy+3.8);
    letter.setAttribute('text-anchor', 'middle');
    letter.setAttribute('font-size', '10');
    letter.setAttribute('font-weight', 'bold');
    letter.setAttribute('fill', '#fff');
    letter.textContent = nm;
  });

  // ticks
  let tickD = '';
  let minorD = '';
  for(let lon=0; lon<=180; lon+=10){
    if(lonTicks.indexOf(lon)>=0){
      tickD += 'M'+sx(lon)+' '+(top-5)+'v5M'+sx(lon)+' '+(top+H)+'v6';
    } else {
      minorD += 'M'+sx(lon)+' '+(top)+'v3M'+sx(lon)+' '+(top+H)+'v3.5';
    }
  }
  for(let lat=-20; lat<=20; lat+=2){
    if(latTicks.indexOf(lat)>=0){
      tickD += 'M'+(left-4)+' '+sy(lat)+'h8M'+(left+W-4)+' '+sy(lat)+'h8';
    } else {
      minorD += 'M'+left+' '+sy(lat)+'h3M'+(left+W-3)+' '+sy(lat)+'h3';
    }
  }
  const majorTicks = make('path', g);
  
  
  majorTicks.setAttribute('d', tickD);
  majorTicks.setAttribute('stroke', '#000');
  majorTicks.setAttribute('stroke-width', '2');
  const minorTicks = make('path', g);
  
  
  minorTicks.setAttribute('d', minorD);
  minorTicks.setAttribute('stroke', '#000');
  minorTicks.setAttribute('stroke-width', '1');

  // frame
  const border = make('rect', g);
  
  
  border.setAttribute('x', left);
  border.setAttribute('y', top);
  border.setAttribute('width', W);
  border.setAttribute('height', H);
  border.setAttribute('fill', 'none');
  border.setAttribute('stroke', '#000');
  border.setAttribute('stroke-width', '2.6');

  // latitude labels (left column only)
  if(col===0){
    latTicks.forEach((lat,i)=>{
      const t = make('text', g);
      
      
      t.setAttribute('x', left-28.5);
      t.setAttribute('y', sy(lat)+12);
      t.setAttribute('text-anchor', 'end');
      t.setAttribute('font-size', '34');
      t.textContent = latTickLabels[i];
    });
  }

  // title
  const tt = make('text', g);
  
  
  tt.setAttribute('x', left-2);
  tt.setAttribute('y', top-7);
  tt.setAttribute('font-size', '34.6');
  tt.textContent = title;

  // bottom row longitude labels
  if(row===3){
    lonTicks.forEach((lon,i)=>{
      const t = make('text', g);
      
      
      t.setAttribute('x', left + lon/180*633);
      t.setAttribute('y', 910);
      t.setAttribute('text-anchor', 'middle');
      t.setAttribute('font-size', '34');
      t.textContent = lonTickLabels[i];
    });
  }
});

// column headers
const headerTexts = ['Observed','CFS Forecast'];
headerTexts.forEach((txt,i)=>{
  const t = make('text', panelsRoot);
  
  
  t.setAttribute('x', frame.lefts[i]+frame.width);
  t.setAttribute('y', 32);
  t.setAttribute('text-anchor', 'end');
  t.setAttribute('font-size', '34.6');
  t.textContent = txt;
});

// colorbar
const barRoot = document.getElementById('colorbar');
const barLeft = 229, barRight = 833, barTop = 972, barHeight = 23;
const barScale = k => barLeft + k*(barRight-barLeft)/bandColors.length;
bandColors.forEach((c,k)=>{
  const r = make('rect', barRoot);
  
  
  r.setAttribute('x', barScale(k));
  r.setAttribute('y', barTop);
  r.setAttribute('width', barScale(k+1)-barScale(k));
  r.setAttribute('height', barHeight);
  r.setAttribute('fill', c);
  r.setAttribute('stroke', '#000');
  r.setAttribute('stroke-width', '1.2');
});
colorLevels.forEach((lv,k)=>{
  const t = make('text', barRoot);
  
  
  t.setAttribute('x', barScale(k+1));
  t.setAttribute('y', 1023.5);
  t.setAttribute('text-anchor', 'middle');
  t.setAttribute('font-size', '30');
  t.textContent = String(lv);
});
</script>
</body>
</html>
